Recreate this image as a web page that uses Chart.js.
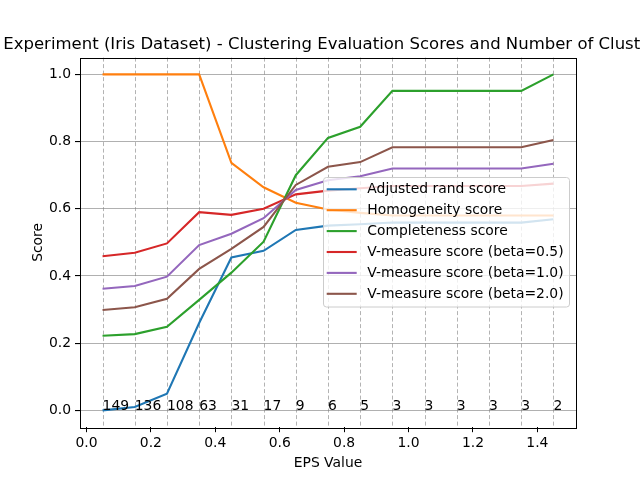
<!DOCTYPE html>
<html>
<head>
<meta charset="utf-8">
<script src="https://cdn.jsdelivr.net/npm/chart.js@4"></script>
<style>
  body { margin: 0; background: #fff; }
  canvas { display: block; }
</style>
</head>
<body>
<canvas id="scores" width="640" height="480"></canvas>
<script>
// eps values tried and what came out
const epsValues = [0.05, 0.15, 0.25, 0.35, 0.45, 0.55, 0.65, 0.75, 0.85, 0.95, 1.05, 1.15, 1.25, 1.35, 1.45];
const clusterCounts = [149, 136, 108, 63, 31, 17, 9, 6, 5, 3, 3, 3, 3, 3, 2];

const adjustedRand = [0.0, 0.01, 0.05, 0.26, 0.455, 0.475, 0.537, 0.55, 0.554, 0.559, 0.559, 0.559, 0.559, 0.559, 0.569];
const homogeneity = [1.0, 1.0, 1.0, 1.0, 0.737, 0.664, 0.618, 0.598, 0.588, 0.58, 0.58, 0.58, 0.58, 0.58, 0.58];
const completeness = [0.222, 0.227, 0.249, 0.329, 0.41, 0.502, 0.70, 0.811, 0.844, 0.951, 0.951, 0.951, 0.951, 0.951, 1.0];
const vMeasure05 = [0.459, 0.469, 0.497, 0.59, 0.582, 0.60, 0.643, 0.654, 0.661, 0.668, 0.668, 0.668, 0.668, 0.668, 0.675];
const vMeasure10 = [0.362, 0.37, 0.398, 0.492, 0.526, 0.572, 0.656, 0.685, 0.697, 0.72, 0.72, 0.72, 0.72, 0.72, 0.734];
const vMeasure20 = [0.299, 0.307, 0.332, 0.421, 0.481, 0.546, 0.671, 0.725, 0.739, 0.783, 0.783, 0.783, 0.783, 0.783, 0.805];

const seriesNames = [
  "Adjusted rand score",
  "Homogeneity score",
  "Completeness score",
  "V-measure score (beta=0.5)",
  "V-measure score (beta=1.0)",
  "V-measure score (beta=2.0)",
];
const seriesValues = [adjustedRand, homogeneity, completeness, vMeasure05, vMeasure10, vMeasure20];
const seriesColors = ["#1f77b4", "#ff7f0e", "#2ca02c", "#d62728", "#9467bd", "#8c564b"];

const xTicks = [0.0, 0.2, 0.4, 0.6, 0.8, 1.0, 1.2, 1.4];
const yTicks = [0.0, 0.2, 0.4, 0.6, 0.8, 1.0];

const FONT = "DejaVu Sans";

let ctx = document.getElementById("scores").getContext("2d");

// dashed line at every eps value, behind the curves
const epsLines = {
  id: "epsLines",
  beforeDatasetsDraw(chart) {
    const c = chart.ctx, area = chart.chartArea, xs = chart.scales.x;
    c.save();
    c.strokeStyle = "rgba(128,128,128,0.6)";
    c.lineWidth = 1;
    c.setLineDash([4, 2.5]);
    epsValues.forEach((e) => {
      const px = Math.round(xs.getPixelForValue(e)) + 0.5;
      c.beginPath();
      c.moveTo(px, area.top);
      c.lineTo(px, area.bottom);
      c.stroke();
    });
    c.restore();
  },
};

// title, axis labels, cluster counts, frame and legend
const extras = {
  id: "extras",
  afterDraw(chart) {
    const c = chart.ctx, area = chart.chartArea;
    const xs = chart.scales.x, ys = chart.scales.y;
    c.save();
    c.fillStyle = "#000";

    // number of clusters next to each eps
    c.font = "13.9px '" + FONT + "'";
    c.textAlign = "left";
    c.textBaseline = "alphabetic";
    epsValues.forEach((e, i) => {
      c.fillText(String(clusterCounts[i]), xs.getPixelForValue(e), ys.getPixelForValue(0));
    });

    // frame
    c.strokeStyle = "#000";
    c.lineWidth = 1;
    c.strokeRect(Math.round(area.left) + 0.5, Math.round(area.top) + 0.5,
      Math.round(area.right - area.left), Math.round(area.bottom - area.top));

    // title (wider than the figure, cut on both sides)
    const lead = "DBSCAN ";
    const shown = "Experiment (Iris Dataset) - Clustering Evaluation Scores and Number of Clust";
    const title = lead + shown + "ers";
    c.font = "16.7px '" + FONT + "'";
    const size = 16.7 * 636.7 / c.measureText(shown).width;
    c.font = size.toFixed(2) + "px '" + FONT + "'";
    c.textAlign = "left";
    c.fillText(title, 3.3 - c.measureText(lead).width, 49);

    // axis labels
    c.font = "13.9px '" + FONT + "'";
    c.textAlign = "center";
    c.fillText("EPS Value", (area.left + area.right) / 2, 467);
    c.save();
    c.translate(41.5, (area.top + area.bottom) / 2);
    c.rotate(-Math.PI / 2);
    c.textBaseline = "alphabetic";
    c.fillText("Score", 0, 0);
    c.restore();

    // legend
    const bx = 323.5, by = 177.5, bw = 246, bh = 129.5, r = 3;
    c.beginPath();
    c.moveTo(bx + r, by);
    c.lineTo(bx + bw - r, by);
    c.arcTo(bx + bw, by, bx + bw, by + r, r);
    c.lineTo(bx + bw, by + bh - r);
    c.arcTo(bx + bw, by + bh, bx + bw - r, by + bh, r);
    c.lineTo(bx + r, by + bh);
    c.arcTo(bx, by + bh, bx, by + bh - r, r);
    c.lineTo(bx, by + r);
    c.arcTo(bx, by, bx + r, by, r);
    c.closePath();
    c.fillStyle = "rgba(255,255,255,0.8)";
    c.fill();
    c.strokeStyle = "#cccccc";
    c.stroke();

    c.textAlign = "left";
    c.textBaseline = "middle";
    chart.data.datasets.forEach((ds, i) => {
      const yy = 189.3 + i * 20.9;
      c.strokeStyle = ds.borderColor;
      c.lineWidth = 2.1;
      c.beginPath();
      c.moveTo(326.7, yy);
      c.lineTo(356.7, yy);
      c.stroke();
      c.fillStyle = "#000";
      c.fillText(ds.label, 367.3, yy + 0.5);
    });
    c.restore();
  },
};

var scoreChart = new Chart(ctx, {
  type: "line",
  data: {
    datasets: seriesNames.map((name, i) => ({
      label: name,
      data: epsValues.map((e, j) => ({ x: e, y: seriesValues[i][j] })),
      borderColor: seriesColors[i],
      backgroundColor: seriesColors[i],
      borderWidth: 2.1,
      pointRadius: 0,
      tension: 0,
      fill: false,
      order: seriesNames.length - 1 - i,
    })),
  },
  options: {
    responsive: false,
    animation: false,
    devicePixelRatio: 1,
    layout: { padding: { top: 57.6, right: 64, left: 0, bottom: 0 } },
    plugins: {
      legend: { display: false },
      title: { display: false },
      tooltip: { enabled: false },
    },
    scales: {
      x: {
        type: "linear",
        min: -0.02,
        max: 1.52,
        afterBuildTicks: (scale) => {
          scale.ticks = xTicks.map((v) => ({ value: v }));
        },
        afterFit: (scale) => {
          scale.height = 52.8;
        },
        ticks: {
          color: "#000",
          font: { family: FONT, size: 13.9 },
          padding: 3,
          maxRotation: 0,
          autoSkip: false,
          callback: (v) => Number(v).toFixed(1),
        },
        grid: {
          drawOnChartArea: false,
          drawTicks: true,
          tickLength: 5,
          tickColor: "#000",
        },
        border: { display: false },
      },
      y: {
        min: -0.05,
        max: 1.05,
        afterBuildTicks: (scale) => {
          scale.ticks = yTicks.map((v) => ({ value: v }));
        },
        afterFit: (scale) => {
          scale.width = 80;
        },
        ticks: {
          color: "#000",
          font: { family: FONT, size: 13.9 },
          padding: 4,
          callback: (v) => Number(v).toFixed(1),
        },
        grid: {
          color: "#b0b0b0",
          lineWidth: 1.1,
          tickLength: 5,
          tickColor: "#000",
        },
        border: { display: false },
      },
    },
  },
  plugins: [epsLines, extras],
});
</script>
</body>
</html>
